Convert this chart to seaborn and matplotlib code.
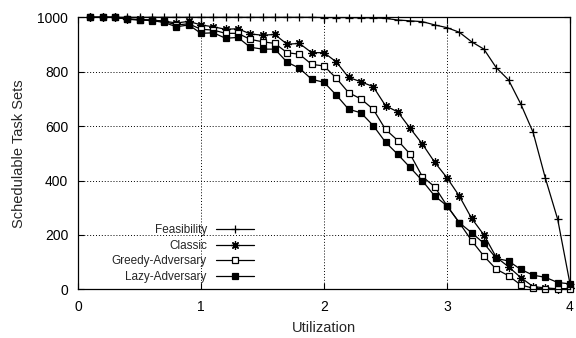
import matplotlib
matplotlib.use("Agg")
import matplotlib.pyplot as plt
import seaborn as sns
import pandas as pd

# Utilization values (x axis)
utilization = [0.1, 0.2, 0.3, 0.4, 0.5, 0.6, 0.7, 0.8, 0.9, 1.0,
               1.1, 1.2, 1.3, 1.4, 1.5, 1.6, 1.7, 1.8, 1.9, 2.0,
               2.1, 2.2, 2.3, 2.4, 2.5, 2.6, 2.7, 2.8, 2.9, 3.0,
               3.1, 3.2, 3.3, 3.4, 3.5, 3.6, 3.7, 3.8, 3.9, 4.0]

feasibility = [1000, 1000, 1000, 1000, 1000, 1000, 1000, 1000, 1000, 1000,
               1000, 1000, 1000, 1000, 1000, 1000, 1000, 1000, 1000, 999,
               999, 999, 998, 998, 996, 990, 987, 984, 972, 962,
               945, 910, 883, 815, 770, 681, 577, 408, 257, 20]

classic = [1000, 1000, 1000, 994, 992, 990, 986, 979, 985, 972,
           965, 956, 958, 939, 934, 937, 901, 904, 870, 870,
           836, 779, 763, 745, 675, 652, 592, 534, 467, 410,
           343, 261, 200, 118, 83, 43, 10, 5, 2, 3]

greedy = [1000, 1000, 1000, 993, 991, 989, 985, 972, 976, 956,
          953, 941, 941, 919, 910, 904, 870, 864, 827, 821,
          776, 723, 700, 662, 588, 547, 497, 414, 377, 307,
          245, 179, 122, 74, 50, 16, 4, 1, 0, 0]

lazy = [1000, 1000, 1000, 993, 990, 988, 981, 965, 972, 941,
        943, 923, 926, 890, 883, 883, 835, 813, 772, 761,
        714, 662, 649, 602, 541, 496, 448, 399, 343, 307,
        245, 208, 169, 114, 104, 73, 52, 44, 25, 20]

series_names = ["Feasibility", "Classic", "Greedy-Adversary", "Lazy-Adversary"]

df = pd.DataFrame({
    "Utilization": utilization * 4,
    "Schedulable": feasibility + classic + greedy + lazy,
    "Series": sum([[n] * len(utilization) for n in series_names], []),
})

sns.set_style("ticks")
plt.rcParams["font.family"] = ["Liberation Sans", "DejaVu Sans"]

fig = plt.figure(figsize=(5.76, 3.38), dpi=100)
ax = fig.add_axes([78 / 576, 1 - 289.3 / 338, 492 / 576, 272 / 338])

styles = {
    "Feasibility": dict(marker="+", markersize=6, markerfacecolor="black"),
    "Classic": dict(marker=(8, 2, 0), markersize=6, markerfacecolor="black"),
    "Greedy-Adversary": dict(marker="s", markersize=5, markerfacecolor="white"),
    "Lazy-Adversary": dict(marker="s", markersize=5, markerfacecolor="black"),
}

for name in series_names:
    sns.lineplot(data=df[df["Series"] == name], x="Utilization", y="Schedulable",
                 color="black", linewidth=0.9, markeredgecolor="black",
                 markeredgewidth=0.9, label=name, ax=ax, clip_on=False,
                 **styles[name])

ax.set_xlim(0, 4)
ax.set_ylim(0, 1000)
ax.set_xticks([0, 1, 2, 3, 4])
ax.set_yticks([0, 200, 400, 600, 800, 1000])
ax.grid(True, color="black", linestyle=(0, (1, 2)), linewidth=0.7)
ax.tick_params(direction="in", length=4, width=0.8, top=True, right=True,
               labelsize=10, colors="black")
ax.tick_params(axis="x", pad=8)
ax.tick_params(axis="y", pad=7)
for s in ax.spines.values():
    s.set_visible(True)
    s.set_linewidth(0.9)
    s.set_color("black")

ax.set_xlabel("Utilization", fontsize=10.5, labelpad=5)
ax.set_ylabel("Schedulable Task Sets", fontsize=10.5, labelpad=8)

ax.legend(loc="lower right", bbox_to_anchor=(254 / 576, 1 - 283 / 338),
          bbox_transform=fig.transFigure, frameon=False, markerfirst=False,
          fontsize=8.5, handlelength=3.2, handletextpad=0.8, labelspacing=0.3,
          borderpad=0, borderaxespad=0)

fig.savefig("out.png", dpi=100)
